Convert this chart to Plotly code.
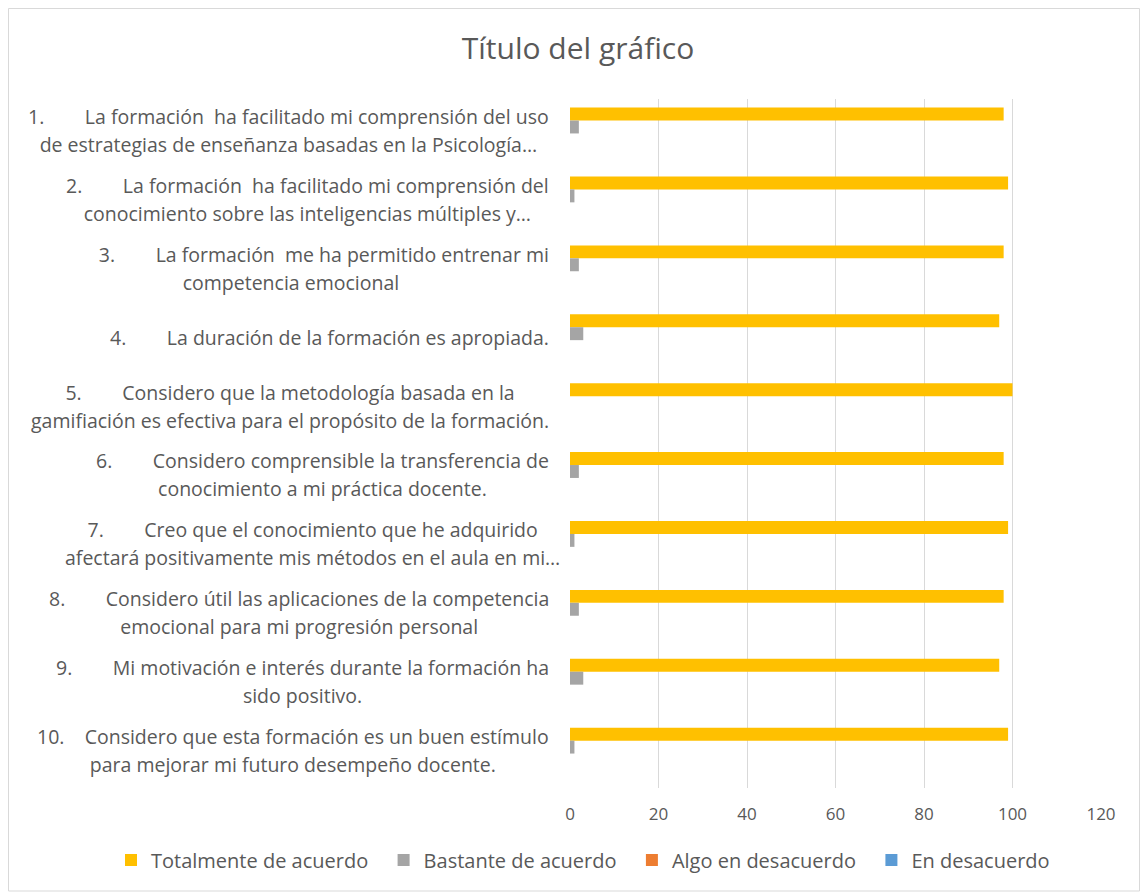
import plotly.graph_objects as go

NB = "\u00a0"

items = ["1.", "2.", "3.", "4.", "5.", "6.", "7.", "8.", "9.", "10."]
line1 = [
    "La formación  ha facilitado mi comprensión del uso",
    "La formación  ha facilitado mi comprensión del",
    "La formación  me ha permitido entrenar mi",
    "La duración de la formación es apropiada.",
    "Considero que la metodología basada en la",
    "Considero comprensible la transferencia de",
    "Creo que el conocimiento que he adquirido",
    "Considero útil las aplicaciones de la competencia",
    "Mi motivación e interés durante la formación ha",
    "Considero que esta formación es un buen estímulo",
]
line2 = [
    "de estrategias de enseñanza basadas en la Psicología…",
    "conocimiento sobre las inteligencias múltiples y…",
    "competencia emocional",
    "",
    "gamifiación es efectiva para el propósito de la formación.",
    "conocimiento a mi práctica docente.",
    "afectará positivamente mis métodos en el aula en mi…",
    "emocional para mi progresión personal",
    "sido positivo.",
    "para mejorar mi futuro desempeño docente.",
]
categories = [f"Q{i+1}" for i in range(10)]

totalmente = [98, 99, 98, 97, 100, 98, 99, 98, 97, 99]
bastante = [2, 1, 2, 3, 0, 2, 1, 2, 3, 1]
algo = [0, 0, 0, 0, 0, 0, 0, 0, 0, 0]
desacuerdo = [0, 0, 0, 0, 0, 0, 0, 0, 0, 0]

series_names = ["Totalmente de acuerdo", "Bastante de acuerdo",
                "Algo en desacuerdo", "En desacuerdo"]
series_values = [totalmente, bastante, algo, desacuerdo]
series_colors = ["#FFC000", "#A5A5A5", "#ED7D31", "#5B9BD5"]

FONT = "Open Sans"
TXT = "#595959"
LBL_SIZE = 19.5

fig = go.Figure()
for name, vals, col in zip(series_names, series_values, series_colors):
    fig.add_trace(go.Bar(y=categories, x=vals, name=name + NB * 2, orientation="h",
                         marker=dict(color=col, line=dict(width=0))))

W, H = 1141, 892
L, R, T, B = 570, 1101, 99, 788
pw, ph = R - L, B - T


def px_x(p):
    return (p - L) / pw


def px_y(p):
    return (B - p) / ph


def sp(s):
    return f'<span style="font-size:{LBL_SIZE}px">{s}</span>'


lead = {2: NB * 13}
right_edge = {6: 562}

annotations = []
for i, cat in enumerate(categories):
    num = items[i]
    sep = NB * 4 if num == "10." else NB * 8
    txt = sp(lead.get(i, "") + num + sep + line1[i])
    if line2[i]:
        txt += "<br>" + sp(line2[i])
    annotations.append(dict(
        x=px_x(right_edge.get(i, 551)), xref="paper", y=cat, yref="y",
        xanchor="right", yanchor="middle", align="center", yshift=3,
        text=txt, showarrow=False,
        font=dict(family=FONT, size=21.5, color=TXT),
    ))

fig.update_layout(
    width=W, height=H,
    margin=dict(l=L, r=W - R, t=T, b=H - B, pad=0, autoexpand=False),
    paper_bgcolor="white", plot_bgcolor="white",
    barmode="group", bargap=0.25, bargroupgap=0,
    font=dict(family=FONT, color=TXT),
    title=dict(text="Título del gráfico", x=578 / W, xref="container",
               y=1 - 48 / H, yref="container", xanchor="center", yanchor="middle",
               font=dict(family=FONT, size=30, color=TXT)),
    xaxis=dict(range=[0, 120], dtick=20, tick0=0, showgrid=True,
               gridcolor="#D9D9D9", gridwidth=1, zeroline=False,
               showline=False, ticks="", ticklabelstandoff=14,
               tickfont=dict(family=FONT, size=17, color=TXT)),
    yaxis=dict(autorange="reversed", showticklabels=False, showgrid=False,
               zeroline=False, showline=False, ticks=""),
    legend=dict(orientation="h", xref="paper", x=px_x(111), xanchor="left",
                yref="paper", y=px_y(860), yanchor="middle",
                font=dict(family=FONT, size=20, color=TXT),
                itemwidth=30, traceorder="normal", bgcolor="rgba(0,0,0,0)"),
    annotations=annotations,
    shapes=[dict(type="rect", xref="paper", yref="paper",
                 x0=px_x(8.5), x1=px_x(1139.5), y0=px_y(891), y1=px_y(8.5),
                 line=dict(color="#D9D9D9", width=1), fillcolor="rgba(0,0,0,0)",
                 layer="below")],
)

fig.write_html("out.html")
